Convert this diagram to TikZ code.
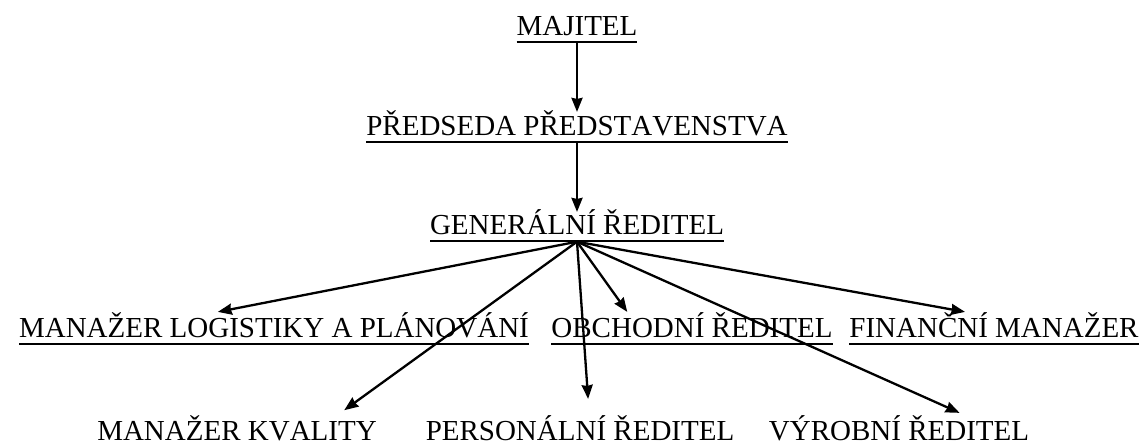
\documentclass[tikz,border=0pt]{standalone}
\usepackage{fontspec}
\setmainfont[Kerning=Off]{Liberation Serif}
\usepackage{tikz}
\usetikzlibrary{arrows.meta}
\usetikzlibrary{calc}

\newcommand{\ulined}[1]{\setbox0\hbox{#1}\rlap{\rule[-7.5pt]{\wd0}{2pt}}\box0}

\tikzset{
    post/.style={inner sep=0pt, anchor=base, font=\fontsize{29}{34}\selectfont},
    order/.style={draw=black, line width=2.3pt, -{Stealth[length=14pt,width=11pt,inset=1pt]}},
}

\begin{document}
\begin{tikzpicture}[x=1pt, y=-1pt]
	\useasboundingbox (0,0) rectangle (1143,445);
	\node[post] (majitel) at (577,35) {\ulined{MAJITEL}};
	\node[post] (predseda) at (577,135) {\ulined{PŘEDSEDA PŘEDSTAVENSTVA}};
	\node[post] (gen) at (577,234) {\ulined{GENERÁLNÍ ŘEDITEL}};
	% second level
	\node[post] (logist) at (274,337) {\ulined{MANAŽER LOGISTIKY A PLÁNOVÁNÍ}};
	\node[post] (obchod) at (692,337) {\ulined{OBCHODNÍ ŘEDITEL}};
	\node[post] (financ) at (994,337) {\ulined{FINANČNÍ MANAŽER}};
	\node[post] (kvalita) at (237,440) {MANAŽER KVALITY};
	\node[post] (person) at (580,440) {PERSONÁLNÍ ŘEDITEL};
	\node[post] (vyroba) at (899,440) {VÝROBNÍ ŘEDITEL};
	\coordinate (hub) at (gen.south);
	\draw[order] (majitel.south) -- ([yshift=-2pt]predseda.north);
	\draw[order] (predseda.south) -- ([yshift=-3pt]gen.north);
	\draw[order] (hub) -- ($(logist.north west)!0.39!(logist.north east)$);
	\draw[order] (hub) -- ($(obchod.north west)!0.27!(obchod.north east)$);
	\draw[order] (hub) -- ($(financ.north west)!0.40!(financ.north east)$);
	\draw[order, shorten >=8pt] (hub) -- ($(kvalita.north west)!0.86!(kvalita.north east)$);
	\draw[order, shorten >=16pt] (hub) -- ($(person.north west)!0.53!(person.north east)$);
	\draw[order, shorten >=5pt] (hub) -- ($(vyroba.north west)!0.75!(vyroba.north east)$);
\end{tikzpicture}
\end{document}
